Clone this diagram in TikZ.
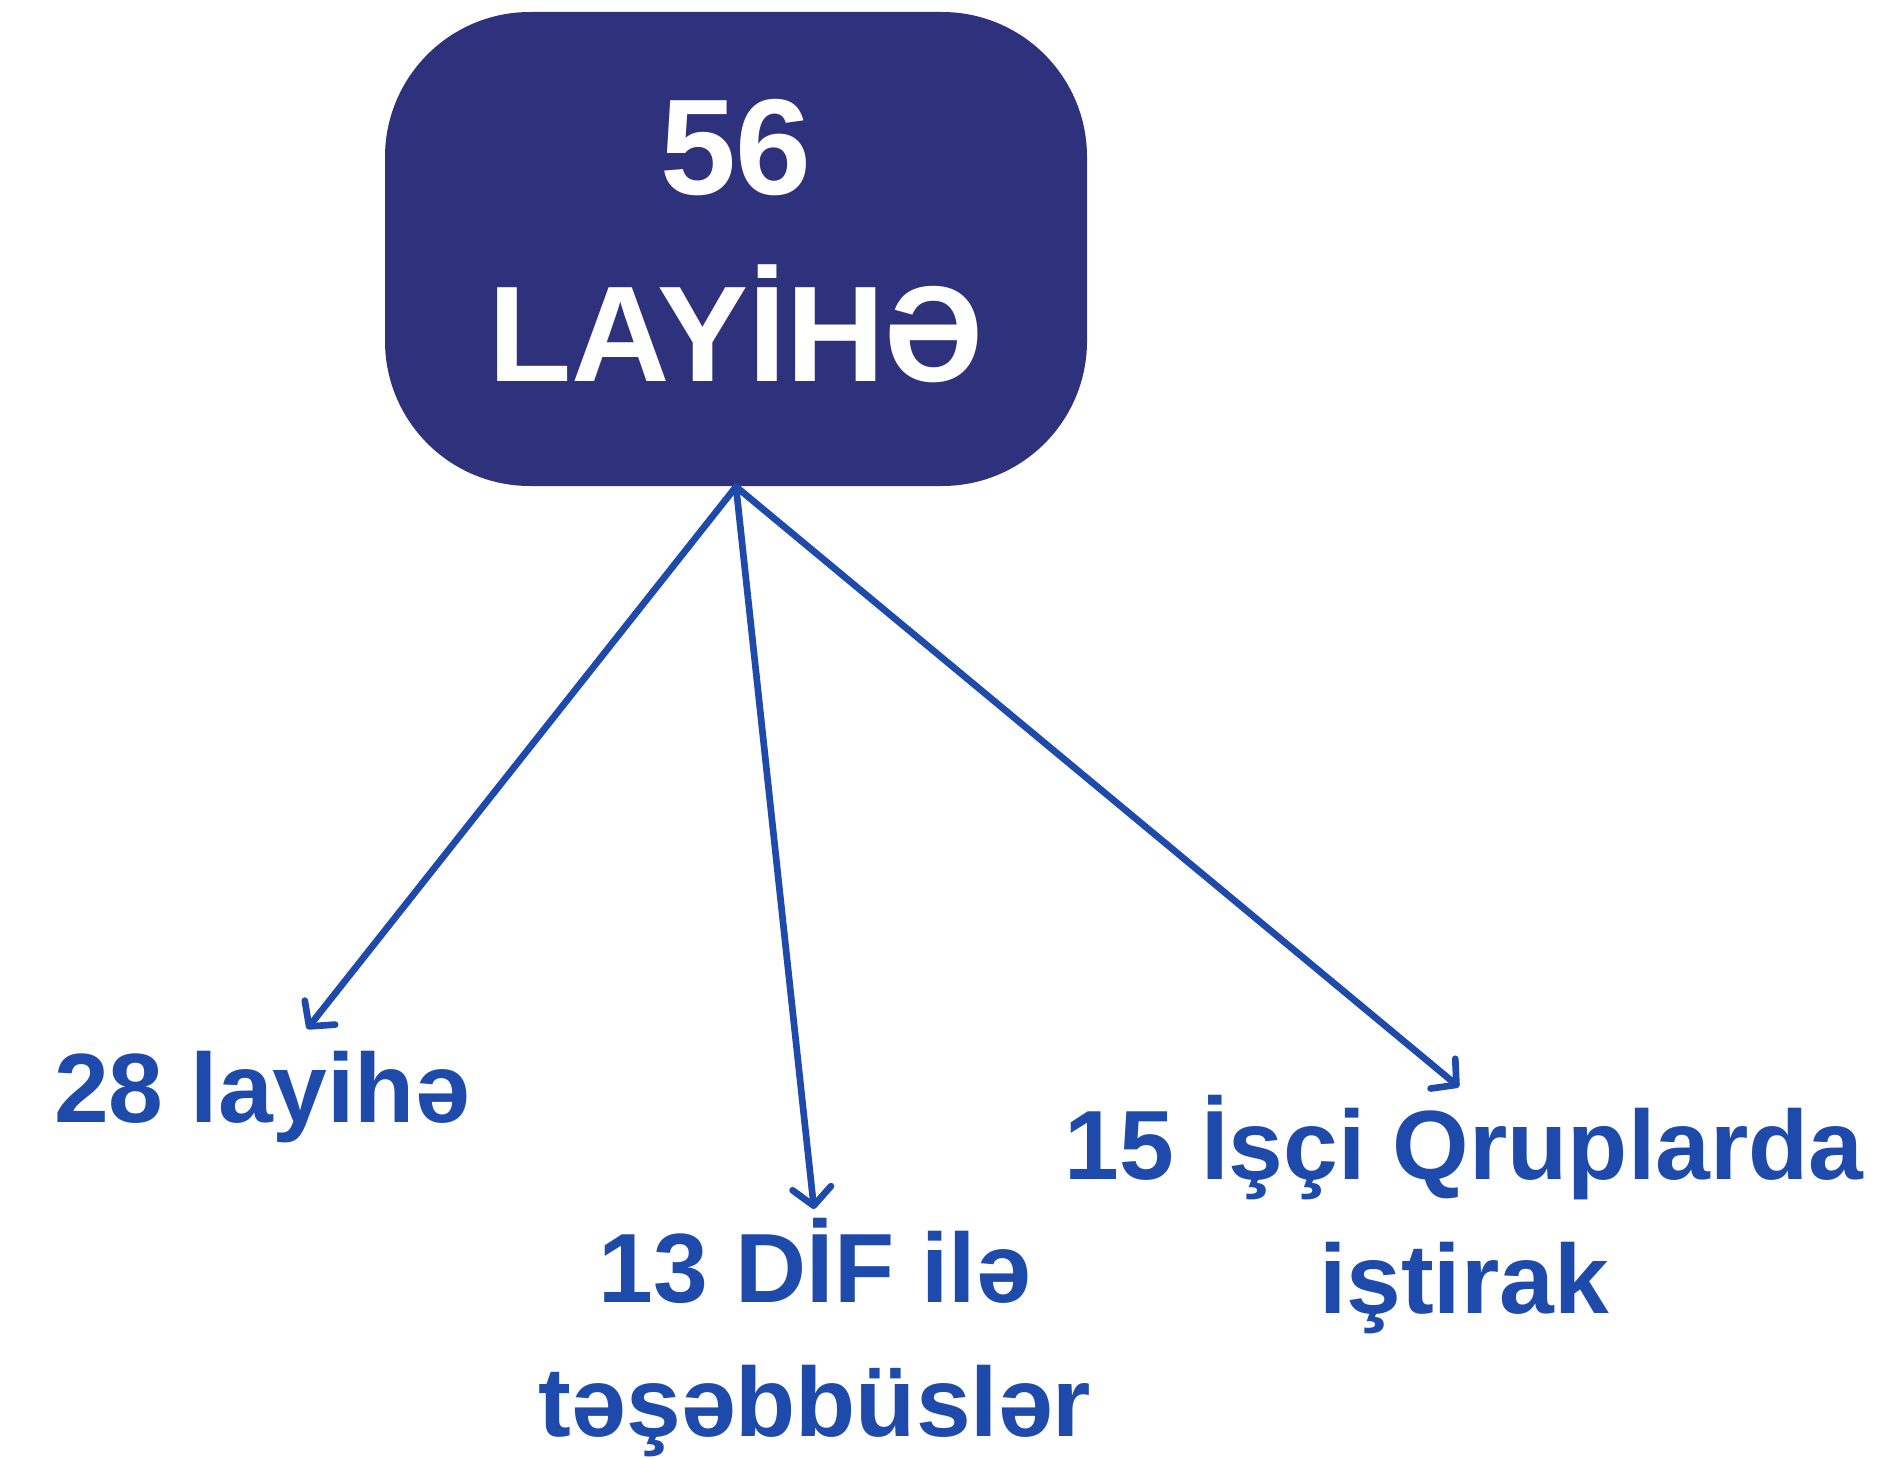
\documentclass[tikz,border=0pt]{standalone}
\usepackage{fontspec}
\setmainfont{Liberation Sans}
\usetikzlibrary{arrows.meta,positioning}
\definecolor{boxnavy}{RGB}{46,49,123}
\definecolor{linkblue}{RGB}{30,74,171}
\tikzset{
  topbox/.style={rectangle,fill=boxnavy,rounded corners=1.45cm,
    minimum width=7.02cm,minimum height=4.74cm,text=white,align=center,
    text depth=0.17cm,font=\fontsize{38.8}{53.4}\selectfont\bfseries},
  countlabel/.style={text=linkblue,align=center,anchor=base,inner sep=0pt,
    font=\fontsize{28}{38}\selectfont\bfseries},
  splitarrow/.style={draw=linkblue,line width=1.9pt,line cap=round,
    -{Straight Barb[length=5pt,width=11pt,round]}},
}
\begin{document}
\begin{tikzpicture}
\useasboundingbox (0,0) rectangle (18.83,-14.58);
\node[topbox] (total) at (7.36,-2.49) {56\\LAYİHƏ};
\node[countlabel] (layihe) at (2.62,-11.22) {28 layihə};
\node[countlabel] (dif) at (8.15,-14.36) {13 DİF ilə\\təşəbbüslər};
\node[countlabel] (qrup) at (14.64,-13.13) {15 İşçi Qruplarda\\iştirak};
\coordinate (tipL) at (3.07,-10.29);
\coordinate (tipM) at (8.14,-12.09);
\coordinate (tipR) at (14.59,-10.87);
\draw[splitarrow] (total.south) -- (tipL);
\draw[splitarrow] (total.south) -- (tipM);
\draw[splitarrow] (total.south) -- (tipR);
\end{tikzpicture}
\end{document}
